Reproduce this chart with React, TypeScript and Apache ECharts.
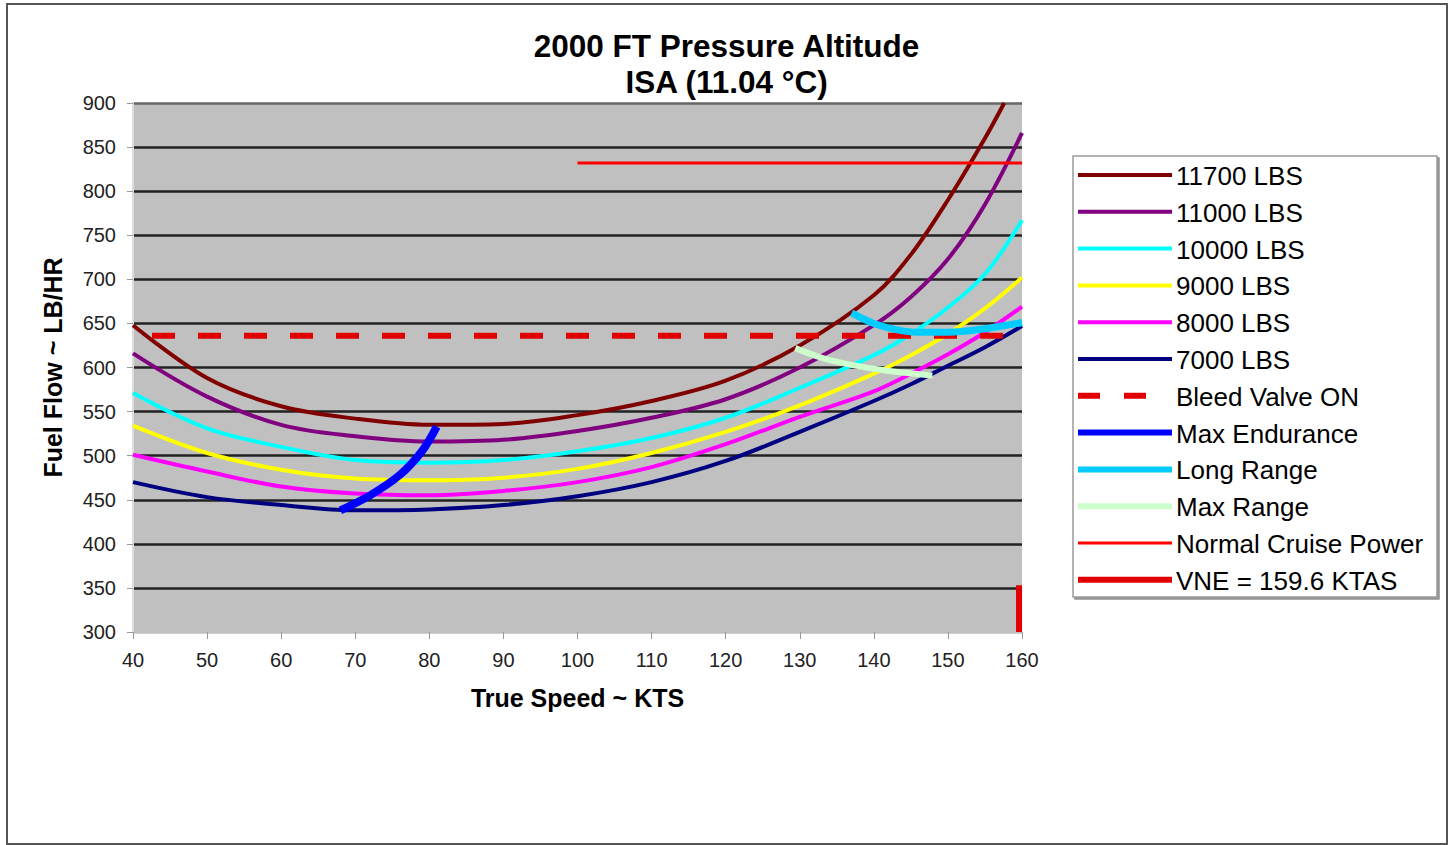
import React, { useEffect, useRef } from "react";
import * as echarts from "echarts";

const FONT = "Arial, 'Liberation Sans', sans-serif";

// X values (knots true airspeed)
const speeds = [40, 50, 60, 70, 80, 90, 100, 110, 120, 130, 140, 145, 150, 155, 160];
const speeds11700 = [40, 50, 60, 70, 80, 90, 100, 110, 120, 130, 140, 145, 150, 155, 157.6];

// Fuel flow (LB/HR) per gross weight
const ff11700 = [648, 588, 556, 542, 535, 536, 546, 562, 585, 625, 682, 728, 790, 860, 900];
const ff11000 = [616, 567, 535, 522, 516, 518, 528, 543, 564, 600, 648, 680, 723, 785, 866];
const ff10000 = [571, 531, 510, 495, 492, 495, 505, 520, 543, 577, 614, 638, 668, 706, 767];
const ff9000 = [534, 503, 484, 474, 472, 475, 485, 503, 527, 557, 593, 614, 638, 667, 702];
const ff8000 = [501, 482, 465, 457, 455, 460, 470, 487, 513, 544, 573, 593, 615, 640, 669];
const ff7000 = [470, 453, 444, 438, 439, 444, 454, 470, 494, 527, 562, 581, 602, 623, 647];

// Limit / reference lines
const bleedSpeeds = [40, 160];
const bleedFF = [636, 636];
const maxEndSpeeds = [68, 72, 76, 79, 81];
const maxEndFF = [438, 455, 478, 505, 533];
const longRangeSpeeds = [137, 140, 143, 146, 150, 155, 160];
const longRangeFF = [662, 650, 643, 640, 640, 644, 651];
const maxRangeSpeeds = [129.4, 133, 137, 142, 147.9];
const maxRangeFF = [622, 611, 603, 596, 591];
const cruiseSpeeds = [100, 160];
const cruiseFF = [832, 832];
const vneSpeeds = [159.6, 159.6];
const vneFF = [300, 353];

const yTicks = [300, 350, 400, 450, 500, 550, 600, 650, 700, 750, 800, 850, 900];

const seriesNames = [
  "11700 LBS",
  "11000 LBS",
  "10000 LBS",
  "9000 LBS",
  "8000 LBS",
  "7000 LBS",
  "Bleed Valve ON",
  "Max Endurance",
  "Long Range",
  "Max Range",
  "Normal Cruise Power",
  "VNE = 159.6 KTAS",
];

const pair = (xs: number[], ys: number[]) => xs.map((x, i) => [x, ys[i]]);

export default function App() {
  const ref = useRef<HTMLDivElement>(null);

  useEffect(() => {
    if (!ref.current) return;
    const chart = echarts.init(ref.current, undefined, { renderer: "svg" });

    const styles: { color: string; width: number; dash?: number[]; smooth: boolean }[] = [
      { color: "#800000", width: 4, smooth: true },
      { color: "#800080", width: 4, smooth: true },
      { color: "#00FFFF", width: 4, smooth: true },
      { color: "#FFFF00", width: 4, smooth: true },
      { color: "#FF00FF", width: 4, smooth: true },
      { color: "#000080", width: 4, smooth: true },
      { color: "#E00000", width: 6, dash: [23, 23], smooth: false },
      { color: "#0000FF", width: 8, smooth: true },
      { color: "#00CCFF", width: 7, smooth: true },
      { color: "#CCFFCC", width: 6, smooth: true },
      { color: "#FF0000", width: 3, smooth: false },
      { color: "#E00000", width: 6, smooth: false },
    ];

    const datasets = [
      pair(speeds11700, ff11700),
      pair(speeds, ff11000),
      pair(speeds, ff10000),
      pair(speeds, ff9000),
      pair(speeds, ff8000),
      pair(speeds, ff7000),
      pair(bleedSpeeds, bleedFF),
      pair(maxEndSpeeds, maxEndFF),
      pair(longRangeSpeeds, longRangeFF),
      pair(maxRangeSpeeds, maxRangeFF),
      pair(cruiseSpeeds, cruiseFF),
      pair(vneSpeeds, vneFF),
    ];

    const series = seriesNames.map((name, i) => ({
      name,
      type: "line",
      data: datasets[i],
      smooth: styles[i].smooth ? 0.35 : false,
      symbol: "none",
      showSymbol: false,
      clip: true,
      z: 2 + i,
      lineStyle: {
        color: styles[i].color,
        width: styles[i].width,
        type: styles[i].dash ? styles[i].dash : "solid",
        dashOffset: styles[i].dash ? 27 : 0,
        cap: "butt",
      },
    }));

    // Legend drawn as graphic elements
    const legendX = 1073;
    const legendY = 156;
    const rowStart = 175;
    const rowStep = 36.8;
    const legendChildren: any[] = [
      {
        type: "rect",
        shape: { x: legendX, y: legendY, width: 364, height: 441 },
        style: {
          fill: "#ffffff",
          stroke: "#9a9a9a",
          lineWidth: 1.5,
          shadowColor: "rgba(120,120,120,0.8)",
          shadowOffsetX: 2,
          shadowOffsetY: 2,
          shadowBlur: 1,
        },
      },
    ];
    seriesNames.forEach((name, i) => {
      const y = rowStart + i * rowStep;
      const st = styles[i];
      if (st.dash) {
        legendChildren.push({
          type: "line",
          shape: { x1: 1078, y1: y, x2: 1148, y2: y },
          style: { stroke: st.color, lineWidth: 6, lineDash: [22, 24] },
        });
      } else {
        legendChildren.push({
          type: "line",
          shape: { x1: 1078, y1: y, x2: 1172, y2: y },
          style: { stroke: st.color, lineWidth: Math.min(st.width, 6) },
        });
      }
      legendChildren.push({
        type: "text",
        x: 1176,
        y: y + 1,
        style: {
          text: name,
          fill: "#000",
          font: `26px ${FONT}`,
          textVerticalAlign: "middle",
          verticalAlign: "middle",
        },
      });
    });

    const option: any = {
      animation: false,
      backgroundColor: "#ffffff",
      title: [
        {
          text: "2000 FT Pressure Altitude",
          left: "center",
          top: 25,
          textStyle: { fontFamily: FONT, fontSize: 31.5, fontWeight: "bold", color: "#000" },
        },
        {
          text: "ISA (11.04 °C)",
          left: "center",
          top: 61,
          textStyle: { fontFamily: FONT, fontSize: 31.5, fontWeight: "bold", color: "#000" },
        },
      ],
      grid: {
        left: 133,
        top: 103,
        width: 889,
        height: 529,
        show: true,
        backgroundColor: "#C0C0C0",
        borderWidth: 0,
      },
      xAxis: {
        type: "value",
        min: 40,
        max: 160,
        interval: 10,
        name: "True Speed ~ KTS",
        nameLocation: "middle",
        nameGap: 53,
        nameTextStyle: { fontFamily: FONT, fontSize: 25, fontWeight: "bold", color: "#000" },
        axisLine: { show: true, lineStyle: { color: "#C0C0C0", width: 1 } },
        axisTick: { show: true, length: 7, lineStyle: { color: "#999", width: 1 } },
        axisLabel: { margin: 18, fontFamily: FONT, fontSize: 20, color: "#222" },
        splitLine: { show: false },
      },
      yAxis: {
        type: "value",
        min: 300,
        max: 900,
        interval: 50,
        name: "Fuel Flow ~ LB/HR",
        nameLocation: "middle",
        nameRotate: 90,
        nameGap: 68,
        nameTextStyle: { fontFamily: FONT, fontSize: 25, fontWeight: "bold", color: "#000" },
        axisLine: { show: true, lineStyle: { color: "#dddddd", width: 2 } },
        axisTick: { show: true, length: 6, lineStyle: { color: "#999", width: 1 } },
        axisLabel: { margin: 17, fontFamily: FONT, fontSize: 20, color: "#222" },
        splitLine: {
          show: true,
          lineStyle: {
            width: 2.5,
            color: yTicks.map((t) => (t === 300 ? "#C0C0C0" : t === 900 ? "#666666" : "#222222")),
          },
        },
      },
      series,
      graphic: [
        {
          type: "rect",
          shape: { x: 7, y: 4, width: 1440, height: 840 },
          style: { fill: "none", stroke: "#555555", lineWidth: 2 },
          silent: true,
          z: 0,
        },
        { type: "group", children: legendChildren },
      ],
    };

    chart.setOption(option);
    return () => chart.dispose();
  }, []);

  return (
    <div
      ref={ref}
      style={{ position: "absolute", left: 0, top: 0, width: 1453, height: 845 }}
    />
  );
}
